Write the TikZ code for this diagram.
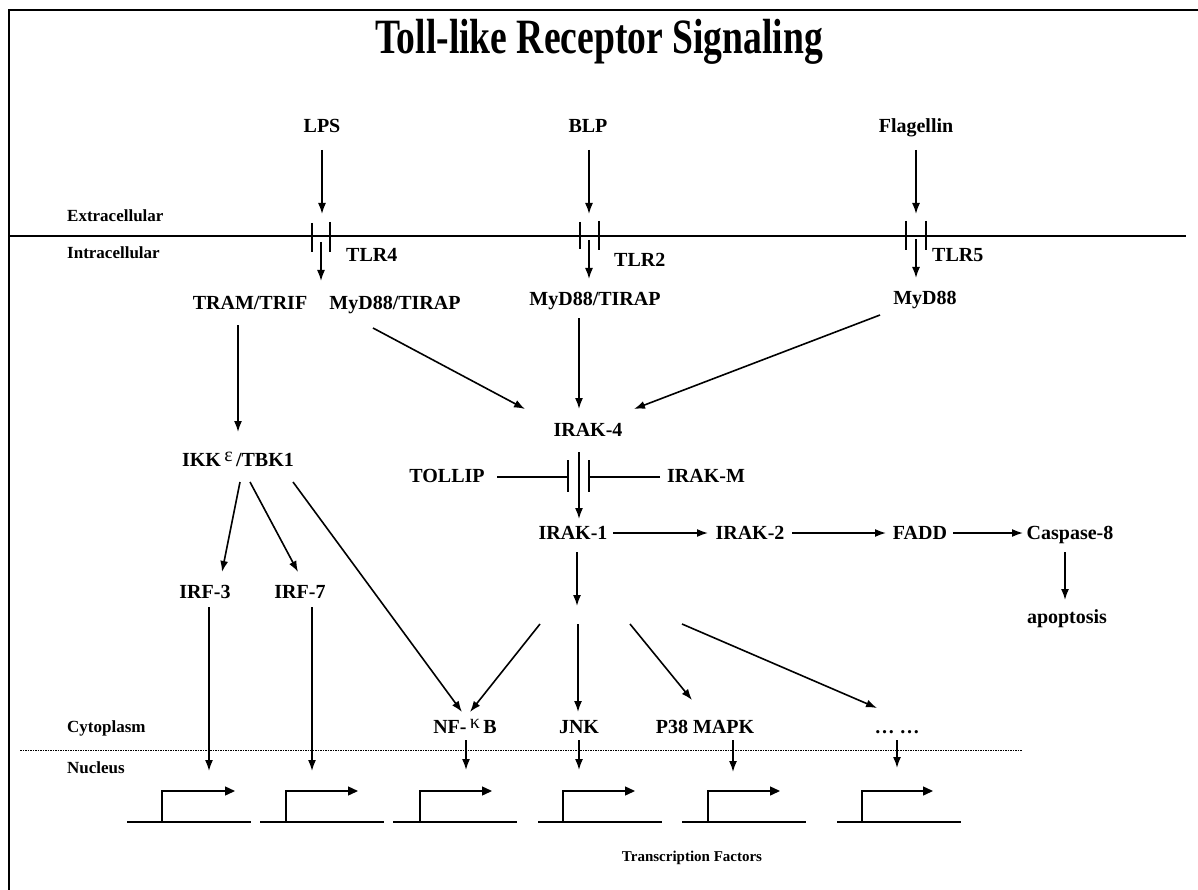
\documentclass[tikz,border=0pt]{standalone}
\usepackage{fontspec}
\setmainfont{Liberation Serif}
\usetikzlibrary{arrows.meta}
\begin{document}
\begin{tikzpicture}[x=1pt,y=-1pt,
  lbl/.style={font=\fontsize{20}{22}\selectfont\bfseries, inner sep=0pt, text height=13.5pt, text depth=0pt},
  side/.style={font=\fontsize{17}{19}\selectfont\bfseries, inner sep=0pt, anchor=west, text height=11.5pt, text depth=0pt},
  arr/.style={line width=1.6pt, -{Latex[length=11pt,width=8pt]}},
  barline/.style={line width=1.6pt},
  gene/.style={line width=1.4pt},
  promo/.style={line width=1.4pt, -{Triangle[length=10pt,width=9pt]}},
]
\useasboundingbox (0,0) rectangle (1198,890);
\fill[white] (0,0) rectangle (1198,890);
\draw[line width=2.5pt] (9,890) -- (9,10) -- (1198,10);

% title
\node[inner sep=0pt, anchor=base] (title) at (599,54) {\scalebox{0.8}[1.05]{\fontsize{47}{50}\selectfont\bfseries Toll-like Receptor Signaling}};

% ligands
\node[lbl] (lps) at (322,126) {LPS};
\node[lbl] (blp) at (588,126) {BLP};
\node[lbl] (flag) at (916,126) {Flagellin};

% compartments
\node[side] (extr) at (67,216) {Extracellular};
\node[side] (intr) at (67,253) {Intracellular};
\node[side] (cyto) at (67,727) {Cytoplasm};
\node[side] (nucl) at (67,768) {Nucleus};

\coordinate (memL) at (10,236);
\coordinate (memR) at (1186,236);
\draw[line width=1.3pt] (memL) -- (memR);

% receptors
\draw[barline] (312,223) -- (312,252);
\draw[barline] (330,222) -- (330,252);
\draw[barline] (580,222) -- (580,249);
\draw[barline] (599,221) -- (599,250);
\draw[barline] (906,221) -- (906,250);
\draw[barline] (926,221) -- (926,250);

\node[lbl, anchor=west] (tlr4) at (346,255) {TLR4};
\node[lbl, anchor=west] (tlr2) at (614,260) {TLR2};
\node[lbl, anchor=west] (tlr5) at (932,255) {TLR5};

\coordinate (lpsA) at (322,150); \coordinate (lpsB) at (322,214);
\coordinate (blpA) at (589,150); \coordinate (blpB) at (589,214);
\coordinate (flA) at (916,150); \coordinate (flB) at (916,214);
\draw[arr] (lpsA) -- (lpsB);
\draw[arr] (blpA) -- (blpB);
\draw[arr] (flA) -- (flB);

\coordinate (t4A) at (321,242); \coordinate (t4B) at (321,281);
\coordinate (t2A) at (589,240); \coordinate (t2B) at (589,279);
\coordinate (t5A) at (916,239); \coordinate (t5B) at (916,278);
\draw[arr] (t4A) -- (t4B);
\draw[arr] (t2A) -- (t2B);
\draw[arr] (t5A) -- (t5B);

% adaptors
\node[lbl] (trif) at (250,303) {TRAM/TRIF};
\node[lbl] (myd1) at (395,303) {MyD88/TIRAP};
\node[lbl] (myd2) at (595,299) {MyD88/TIRAP};
\node[lbl] (myd3) at (925,298) {MyD88};

\node[lbl] (irak4) at (588,430) {IRAK-4};
\node[lbl] (ikk) at (238,460) {IKK\,\raisebox{5pt}{\mdseries ε}\,/TBK1};
\node[lbl] (tollip) at (447,476) {TOLLIP};
\node[lbl, anchor=west] (irakm) at (667,476) {IRAK-M};

\draw[arr] (238,325) -- (238,432);
\draw[arr] (373,328) -- (525,409);
\draw[arr] (579,318) -- (579,409);
\draw[arr] (880,315) -- (634,409);

% inhibition
\draw[arr] (579,452) -- (579,519);
\draw[barline] (497,477) -- (568,477);
\draw[barline] (568,460) -- (568,492);
\draw[barline] (660,477) -- (589,477);
\draw[barline] (589,460) -- (589,492);

% IRAK-1 row
\node[lbl] (irak1) at (573,533) {IRAK-1};
\node[lbl] (irak2) at (750,533) {IRAK-2};
\node[lbl] (fadd) at (920,533) {FADD};
\node[lbl] (casp) at (1070,533) {Caspase-8};
\node[lbl] (apop) at (1067,617) {apoptosis};

\draw[arr] (613,533) -- (708,533);
\draw[arr] (792,533) -- (886,533);
\draw[arr] (953,533) -- (1023,533);
\draw[arr] (1065,552) -- (1065,600);

\draw[arr] (577,552) -- (577,606);

% IRFs
\node[lbl] (irf3) at (205,592) {IRF-3};
\node[lbl] (irf7) at (300,592) {IRF-7};
\draw[arr] (240,482) -- (222,572);
\draw[arr] (250,482) -- (298,572);
\draw[arr] (293,482) -- (462,712);

% transcription factor row
\node[lbl] (nfkb) at (465,727) {NF-\,\raisebox{5pt}{\mdseries κ}\,B};
\node[lbl] (jnk) at (579,727) {JNK};
\node[lbl] (p38) at (705,727) {P38 MAPK};
\node[lbl] (dots) at (897,727) {… …};

\draw[arr] (540,624) -- (470,712);
\draw[arr] (578,624) -- (578,712);
\draw[arr] (630,624) -- (692,700);
\draw[arr] (682,624) -- (877,708);

\draw[line width=1pt, dash pattern=on 1.5pt off 1pt] (20,750) -- (1022,750);

\draw[arr] (209,607) -- (209,771);
\draw[arr] (312,607) -- (312,771);
\draw[arr] (466,740) -- (466,770);
\draw[arr] (579,740) -- (579,770);
\draw[arr] (733,740) -- (733,772);
\draw[arr] (897,740) -- (897,768);

% genes
\foreach \a/\b/\c in {127/162/235, 260/286/358, 393/420/492, 538/563/635, 682/708/780, 837/862/933} {
  \draw[gene] (\a,822) -- ({\a+124},822);
  \draw[promo] (\b,822) -- (\b,791) -- (\c,791);
}

\node[inner sep=0pt, font=\fontsize{15}{17}\selectfont\bfseries] (tf) at (692,858) {Transcription Factors};
\end{tikzpicture}
\end{document}
